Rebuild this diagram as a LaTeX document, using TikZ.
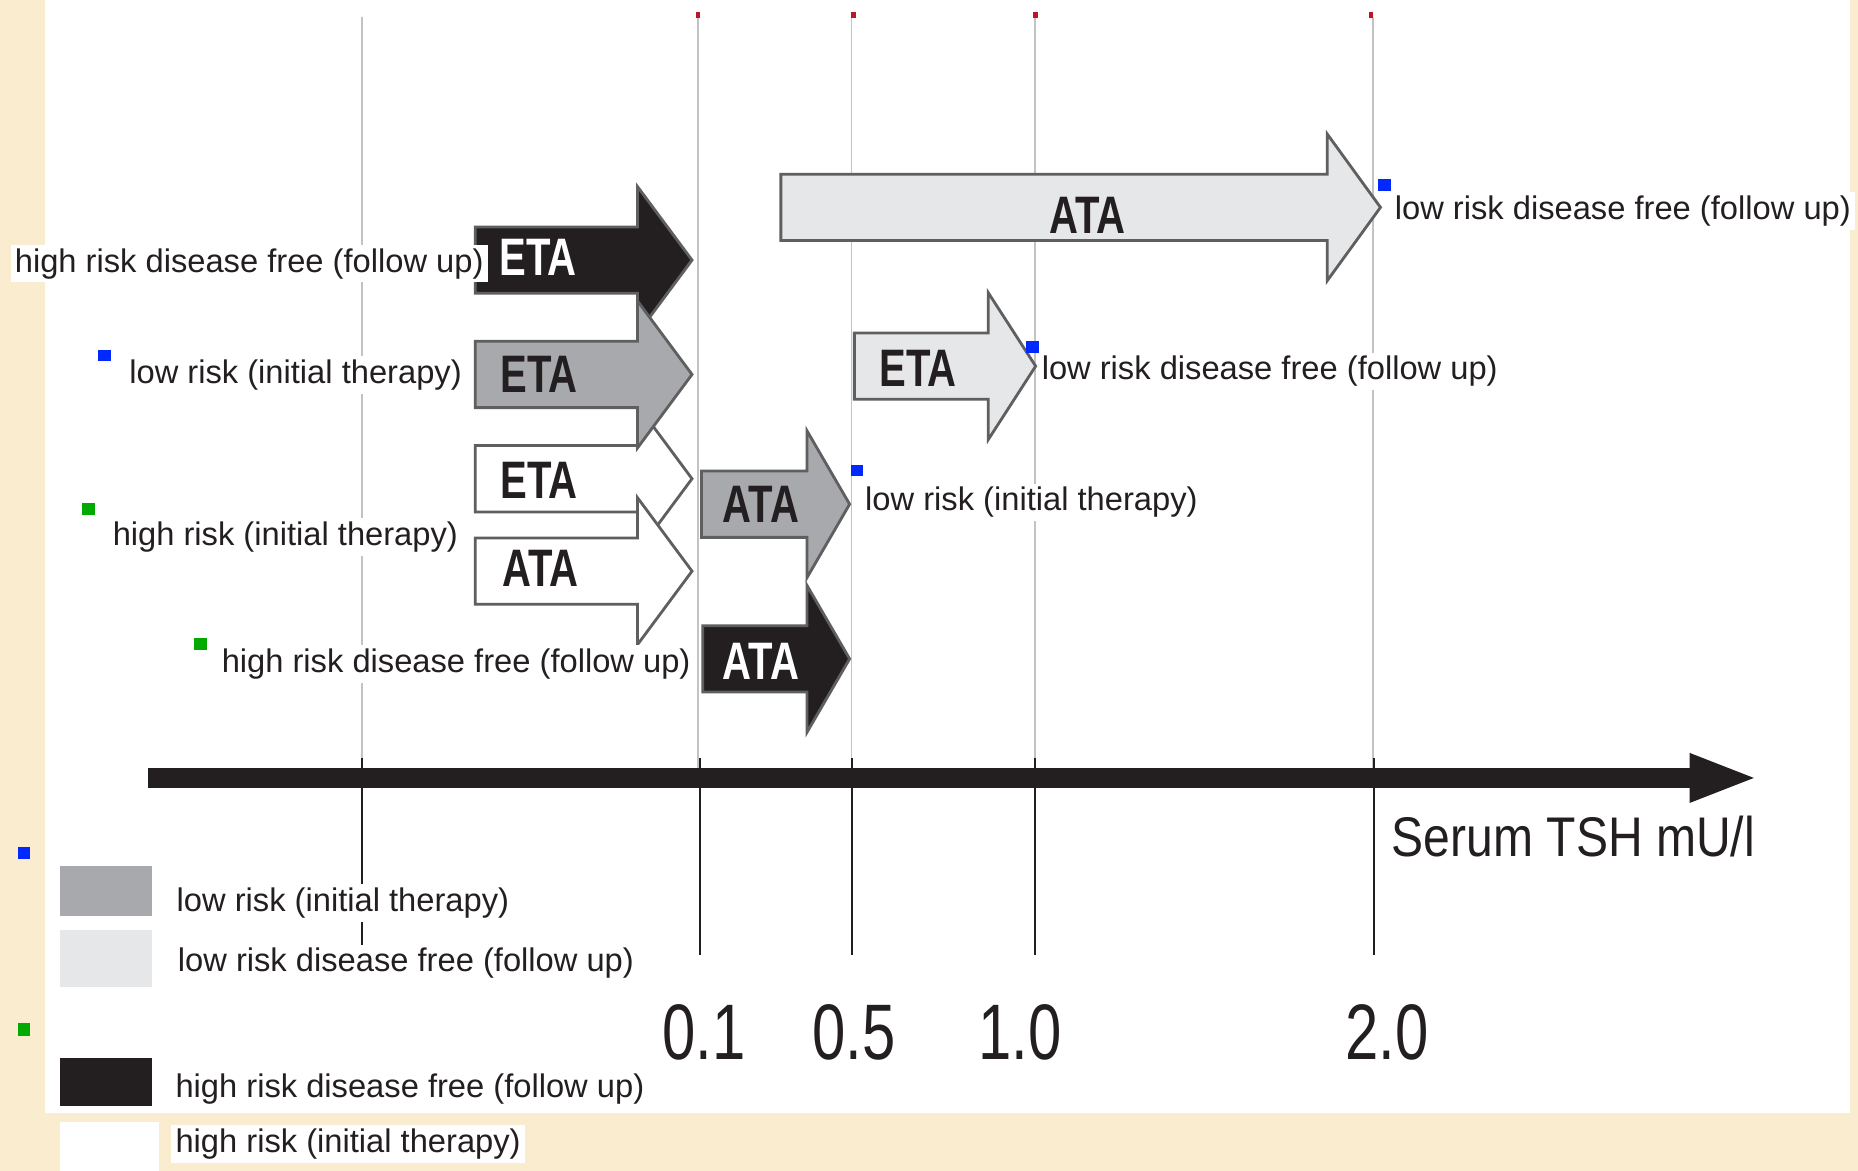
\documentclass[tikz,border=0pt]{standalone}
\usepackage{fontspec}
\setmainfont{Liberation Sans}
\newfontfamily\condfont{Liberation Sans}[FakeStretch=0.76]
\newfontfamily\axisfont{Liberation Sans}[FakeStretch=0.86]
\usepackage{xcolor}
\usepackage{tikz}
\usetikzlibrary{arrows.meta}

\definecolor{paper}{RGB}{250,236,206}
\definecolor{tshblack}{RGB}{35,31,32}
\definecolor{tshgray}{RGB}{167,169,172}
\definecolor{tshlight}{RGB}{230,231,232}
\definecolor{tshedge}{RGB}{95,95,95}
\definecolor{gridgray}{RGB}{195,195,195}
\definecolor{tshred}{RGB}{190,20,40}
\definecolor{tshblue}{RGB}{0,40,255}
\definecolor{tshgreen}{RGB}{0,170,0}

\begin{document}
\begin{tikzpicture}[x=0.1185mm, y=-0.1185mm,
        lbl/.style={fill=white, anchor=west, inner xsep=1.2pt, inner ysep=1pt,
            text=tshblack, font=\fontsize{9.3}{11}\selectfont},
        blk/.style={draw=tshedge, line width=0.8pt, line join=miter},
        tag/.style={inner sep=0pt, font=\fontsize{15}{18}\condfont\bfseries},
        num/.style={inner sep=0pt, text=tshblack, font=\fontsize{22.4}{26}\condfont}]

    \useasboundingbox (0,0) rectangle (1568,988);
    \fill[paper] (0,0) rectangle (1568,988);
    \fill[white] (37.7,0) rectangle (1561,939.5);

    % grid of the TSH levels
    \foreach \x in {305.4,589,718.5,873.7,1158.5}
        \draw[gridgray, line width=0.5pt] (\x,14) -- (\x,648);
    \foreach \x/\y in {305.4/798,590.6/806,719/806,873.6/806,1159.6/806}
        \draw[tshblack, line width=0.6pt] (\x,640) -- (\x,\y);
    \foreach \x in {589,720,873.6,1157}
        \fill[tshred] (\x-2,10) rectangle (\x+2,15);

    % block arrows: left x, head base x, tip x, centre y, fill
    \foreach \xl/\xb/\xt/\yc/\fc in {401/538/584/404/white, 401/538/584/482/white,
            401/538/584/219.5/tshblack, 401/538/584/316/tshgray,
            592/681/717/425.5/tshgray, 593/681/717/556/tshblack,
            659/1120/1165/175/tshlight, 721/834/874/309/tshlight}
        \filldraw[blk, fill=\fc] (\xl,\yc-28) -- (\xb,\yc-28) -- (\xb,\yc-62) -- (\xt,\yc)
            -- (\xb,\yc+62) -- (\xb,\yc+28) -- (\xl,\yc+28) -- cycle;

    \node[tag, text=white] (etaHD) at (454,217) {ETA};
    \node[tag, text=tshblack] (etaLI) at (455,315.7) {ETA};
    \node[tag, text=tshblack] (etaHI) at (455,405.8) {ETA};
    \node[tag, text=tshblack] (ataHI) at (456,480) {ATA};
    \node[tag, text=tshblack] (ataLI) at (642,425.5) {ATA};
    \node[tag, text=white] (ataHD) at (642,558) {ATA};
    \node[tag, text=tshblack] (ataLD) at (917.7,182) {ATA};
    \node[tag, text=tshblack] (etaLD) at (774.7,311) {ETA};

    % labels
    \node[lbl] (labA) at (8.4,222.5) {high risk disease free (follow up)};
    \node[lbl] (labB) at (105,316.5) {low risk (initial therapy)};
    \node[lbl] (labC) at (91,453) {high risk (initial therapy)};
    \node[lbl] (labD) at (183,560.5) {high risk disease free (follow up)};
    \node[lbl] (labE) at (1173,178) {low risk disease free (follow up)};
    \node[lbl] (labF) at (875,313.5) {low risk disease free (follow up)};
    \node[lbl] (labG) at (726,424) {low risk (initial therapy)};

    \fill[tshblue] (82.5,295) rectangle (93.5,305);
    \fill[tshgreen] (69,424.5) rectangle (80,435);
    \fill[tshgreen] (164,538) rectangle (175,548.5);
    \fill[tshblue] (1163,151) rectangle (1174,161);
    \fill[tshblue] (866,287.5) rectangle (877,297.7);
    \fill[tshblue] (718,392) rectangle (728,402);

    % axis
    \coordinate (axL) at (125,656.5);
    \coordinate (axR) at (1484,656.5);
    \draw[tshblack, line width=5.6pt, -{Triangle[length=19.6pt,width=12.5pt]}] (axL) -- (axR);
    \node[inner sep=0pt, anchor=west, text=tshblack, font=\fontsize{15.9}{19}\axisfont]
        (unit) at (1174,706) {Serum TSH mU/l};
    \node[num] (t01) at (594,871) {0.1};
    \node[num] (t05) at (720.7,871) {0.5};
    \node[num] (t10) at (861,871) {1.0};
    \node[num] (t20) at (1170.5,871) {2.0};

    % legend
    \fill[tshblue] (15,715) rectangle (25.5,725);
    \fill[tshgreen] (15,863) rectangle (25.5,874);
    \fill[tshgray] (51,731) rectangle (128,773);
    \fill[tshlight] (51,785) rectangle (128,833);
    \fill[tshblack] (51,893) rectangle (128,933);
    \fill[white] (51,947) rectangle (134,988);
    \node[lbl] (legA) at (145,762) {low risk (initial therapy)};
    \node[lbl] (legB) at (146,813) {low risk disease free (follow up)};
    \node[lbl] (legC) at (144,919) {high risk disease free (follow up)};
    \node[lbl] (legD) at (144,965.5) {high risk (initial therapy)};

\end{tikzpicture}
\end{document}
